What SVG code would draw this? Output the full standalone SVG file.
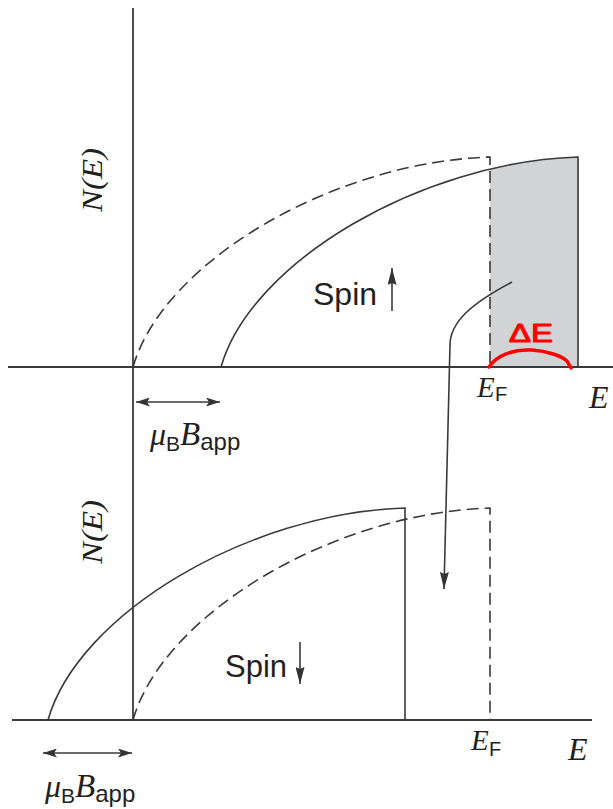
<svg xmlns="http://www.w3.org/2000/svg" width="613" height="809" viewBox="0 0 613 809">
<style>
.ln{fill:none;stroke:#3a3a3a;stroke-width:1.6}
.ax{fill:none;stroke:#3a3a3a;stroke-width:1.8}
.ds{fill:none;stroke:#3a3a3a;stroke-width:1.6;stroke-dasharray:12 6}
.it{font-family:"Liberation Serif",serif;font-style:italic;fill:#231f20}
.sa{font-family:"Liberation Sans",Arial,sans-serif;fill:#231f20}
</style>
<defs>
<marker id="ah" viewBox="0 0 14 9" refX="14" refY="4.5" markerWidth="14" markerHeight="9" markerUnits="userSpaceOnUse" orient="auto-start-reverse"><path d="M0,0 L14,4.5 L0,9 L3,4.5 z" fill="#333"/></marker>
<marker id="ahl" viewBox="0 0 17 9" refX="17" refY="4.5" markerWidth="17" markerHeight="9" markerUnits="userSpaceOnUse" orient="auto"><path d="M0,0 L17,4.5 L0,9 L2,4.5 z" fill="#333"/></marker>
<clipPath id="shadeclip"><rect x="490" y="100" width="88" height="267"/></clipPath>
</defs>
<rect width="613" height="809" fill="#fff"/>

<g id="shade">
<path d="M221,367 C251,262 421,162 578,157 L578,367 Z" fill="#d1d3d4" clip-path="url(#shadeclip)"/>
</g>

<g id="axes">
<line class="ax" x1="133" y1="8" x2="133" y2="720"/>
<line class="ax" x1="8" y1="367" x2="613" y2="367"/>
<line class="ax" x1="12" y1="720" x2="592" y2="720"/>
</g>

<g id="spin-up-band">
<path class="ds" d="M133,367 C163,262 333,162 490,157 L490,367"/>
<path class="ln" d="M221,367 C251,262 421,162 578,157 L578,367"/>
</g>

<g id="spin-down-band">
<path class="ds" d="M133,720 C163,614 333,513 490,508 L490,720"/>
<path class="ln" d="M48,720 C78,614 248,513 405,508 L405,720"/>
</g>

<g id="labels-top">
<text class="it" font-size="30" textLength="64" lengthAdjust="spacingAndGlyphs" text-anchor="middle" transform="translate(102,180) rotate(-90)">N(E)</text>
<text class="sa" x="313" y="305" font-size="32">Spin</text>
<text class="it" x="477" y="397" font-size="29">E</text>
<text class="sa" x="495" y="401" font-size="20">F</text>
<text class="it" x="589" y="408" font-size="32">E</text>
<text x="150" y="445"><tspan class="it" font-size="32">μ</tspan><tspan class="sa" font-size="21" dy="6">B</tspan><tspan class="it" font-size="33" dy="-6">B</tspan><tspan class="sa" font-size="24" dy="5">app</tspan></text>
</g>

<g id="labels-bottom">
<text class="it" font-size="30" textLength="64" lengthAdjust="spacingAndGlyphs" text-anchor="middle" transform="translate(102,532) rotate(-90)">N(E)</text>
<text class="sa" x="225" y="677" font-size="31">Spin</text>
<text class="it" x="471" y="750" font-size="29">E</text>
<text class="sa" x="489" y="756" font-size="20">F</text>
<text class="it" x="568" y="760" font-size="32">E</text>
<text x="45" y="797"><tspan class="it" font-size="32">μ</tspan><tspan class="sa" font-size="21" dy="6">B</tspan><tspan class="it" font-size="33" dy="-6">B</tspan><tspan class="sa" font-size="24" dy="5">app</tspan></text>
</g>

<g id="connectors">
<line class="ln" x1="136" y1="402" x2="220" y2="402" marker-start="url(#ah)" marker-end="url(#ah)"/>
<line class="ln" x1="43" y1="753" x2="132" y2="753" marker-start="url(#ah)" marker-end="url(#ah)"/>
<line class="ln" x1="392" y1="311" x2="392" y2="268" marker-end="url(#ahl)"/>
<line class="ln" x1="300" y1="642" x2="300" y2="684" marker-end="url(#ahl)"/>
<path class="ln" d="M512,282 C472,303 450,322 450,345 L444,589" marker-end="url(#ahl)"/>
</g>

<g id="annotation" fill="none" stroke="#ff0000" stroke-linecap="round" stroke-linejoin="round">
<path d="M489,367 C497,355 514,349 532,350 C548,351 561,356 567,361 L571,368" stroke-width="3.5"/>
<text x="509" y="342" font-family="Liberation Sans, Arial, sans-serif" font-size="25" textLength="44" lengthAdjust="spacingAndGlyphs" fill="#ff0000" stroke-width="1">ΔE</text>
</g>
</svg>
